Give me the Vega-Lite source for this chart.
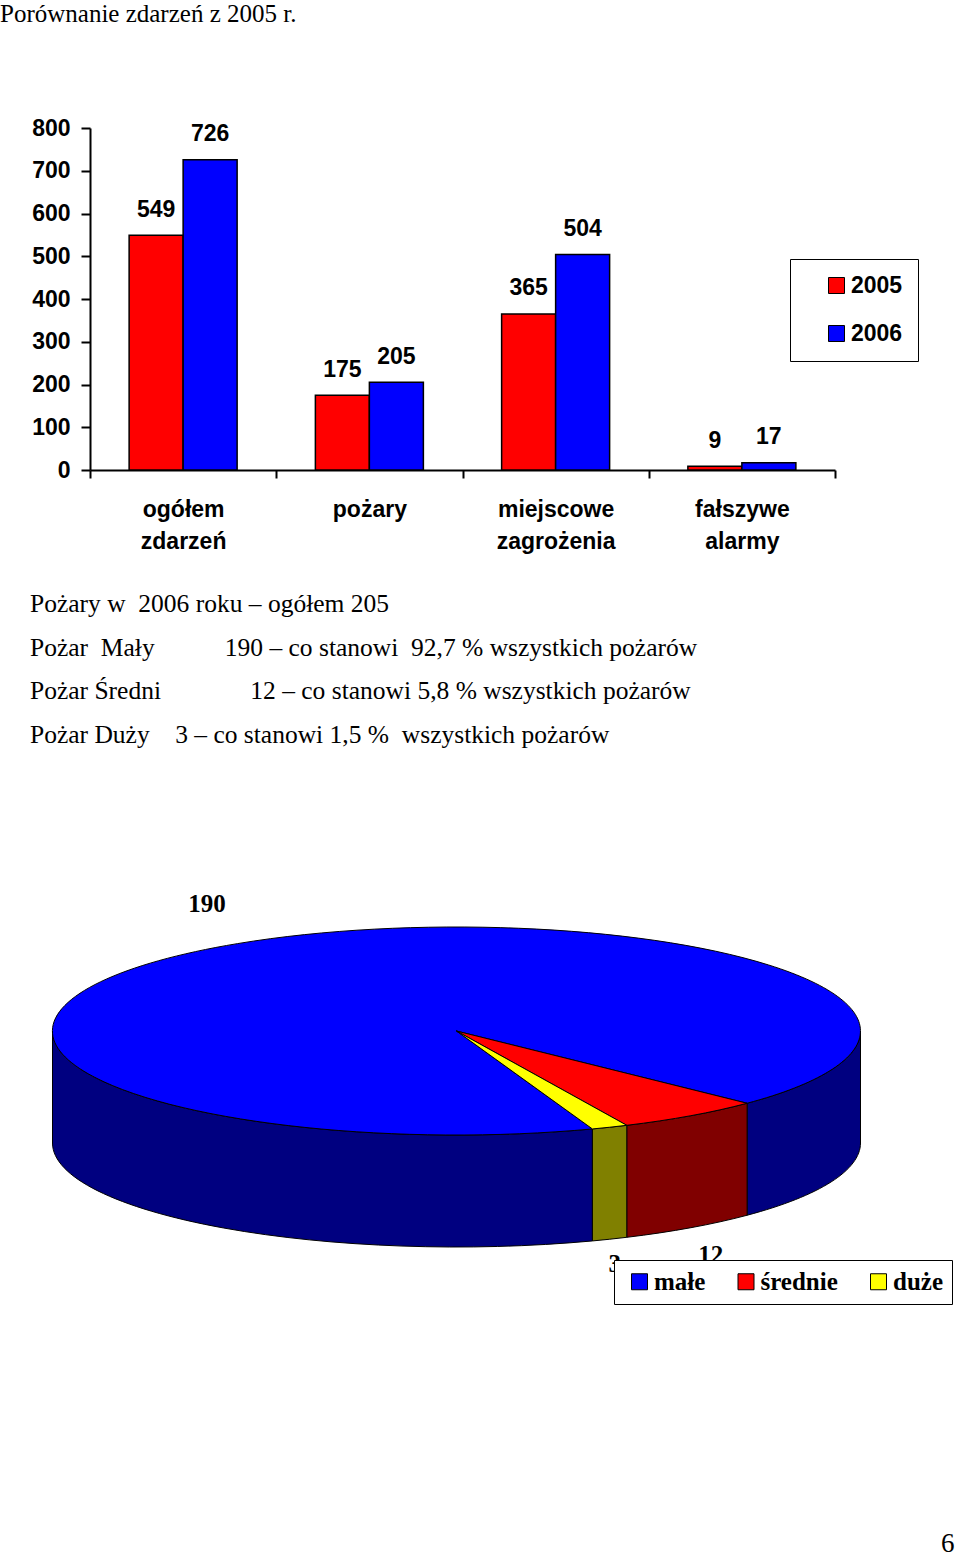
{
  "$schema": "https://vega.github.io/schema/vega-lite/v6.json",
  "background": "white",
  "padding": {"top": 2, "left": 0, "right": 0, "bottom": 0},
  "config": {"view": {"stroke": null}, "font": "Liberation Sans"},
  "title": {"text": "6", "orient": "bottom", "anchor": "end", "frame": "bounds", "font": "Liberation Serif", "fontSize": 27, "fontWeight": "normal", "color": "black", "offset": 226, "dx": 2},
  "spacing": 39,
  "resolve": {"scale": {"color": "independent"}, "legend": {"color": "independent"}},
  "vconcat": [
    {
      "width": 745,
      "height": 342,
      "title": {"text": "Porównanie zdarzeń z 2005 r.", "anchor": "start", "frame": "group", "font": "Liberation Serif", "fontSize": 25, "fontWeight": "normal", "color": "black", "dx": -90, "offset": 90},
      "data": {"values": [
        {"zdarzenie": "ogółem zdarzeń", "rok": "2005", "liczba": 549},
        {"zdarzenie": "ogółem zdarzeń", "rok": "2006", "liczba": 726},
        {"zdarzenie": "pożary", "rok": "2005", "liczba": 175},
        {"zdarzenie": "pożary", "rok": "2006", "liczba": 205},
        {"zdarzenie": "miejscowe zagrożenia", "rok": "2005", "liczba": 365},
        {"zdarzenie": "miejscowe zagrożenia", "rok": "2006", "liczba": 504},
        {"zdarzenie": "fałszywe alarmy", "rok": "2005", "liczba": 9},
        {"zdarzenie": "fałszywe alarmy", "rok": "2006", "liczba": 17}
      ]},
      "encoding": {
        "x": {"field": "zdarzenie", "type": "nominal", "sort": null, "title": null,
          "scale": {"paddingInner": 0, "paddingOuter": 0},
          "axis": {"tickBand": "extent", "labelAngle": 0, "labelExpr": "split(datum.label, ' ')", "labelFont": "Liberation Sans", "labelFontWeight": "bold", "labelFontSize": 23, "labelColor": "black", "labelLineHeight": 32, "labelPadding": 20, "tickSize": 8, "tickColor": "black", "tickWidth": 2, "domainColor": "black", "domainWidth": 2, "labelLimit": 0}},
        "xOffset": {"field": "rok", "type": "nominal", "scale": {"paddingInner": 0, "paddingOuter": 0.7245}},
        "y": {"field": "liczba", "type": "quantitative", "title": null,
          "scale": {"domain": [0, 800], "nice": false},
          "axis": {"values": [0, 100, 200, 300, 400, 500, 600, 700, 800], "grid": false, "tickSize": 9, "tickWidth": 2, "tickColor": "black", "domainColor": "black", "domainWidth": 2, "labelFont": "Liberation Sans", "labelFontWeight": "bold", "labelFontSize": 23, "labelColor": "black", "labelPadding": 11, "labelOverlap": false}}
      },
      "layer": [
        {
          "mark": {"type": "bar", "stroke": "black", "strokeWidth": 1.5},
          "encoding": {
            "color": {"field": "rok", "type": "nominal", "scale": {"domain": ["2005", "2006"], "range": ["#FF0000", "#0000FF"]},
              "legend": {"title": null, "orient": "none", "legendX": 700, "legendY": 131, "direction": "vertical", "symbolType": "square", "symbolSize": 256, "symbolStrokeColor": "black", "symbolStrokeWidth": 1, "labelFont": "Liberation Sans", "labelFontWeight": "bold", "labelFontSize": 23, "labelColor": "black", "labelOffset": 3, "padding": 15, "symbolOffset": 20, "rowPadding": 24, "strokeColor": "black", "fillColor": "white"}}
          }
        },
        {
          "mark": {"type": "text", "font": "Liberation Sans", "fontWeight": "bold", "fontSize": 23, "baseline": "alphabetic", "align": "center", "dy": -18.5, "color": "black"},
          "encoding": {"text": {"field": "liczba", "type": "quantitative"}}
        }
      ]
    },
    {
      "width": 733,
      "height": 380,
      "title": {
        "text": [
          "Pożary w\u00a0\u00a02006 roku – ogółem 205",
          "Pożar\u00a0\u00a0Mały\u00a0\u00a0\u00a0\u00a0\u00a0\u00a0\u00a0\u00a0\u00a0\u00a0\u00a0190 – co stanowi\u00a0\u00a092,7 % wszystkich pożarów",
          "Pożar Średni\u00a0\u00a0\u00a0\u00a0\u00a0\u00a0\u00a0\u00a0\u00a0\u00a0\u00a0\u00a0\u00a0\u00a012 – co stanowi 5,8 % wszystkich pożarów",
          "Pożar Duży\u00a0\u00a0\u00a0\u00a03 – co stanowi 1,5 %\u00a0\u00a0wszystkich pożarów"
        ],
        "anchor": "start", "frame": "group", "font": "Liberation Serif", "fontSize": 25.5, "fontWeight": "normal", "color": "black", "lineHeight": 43.5, "dx": -60, "offset": 93
      },
      "data": {"values": [
        {"kategoria": "małe", "liczba": 190},
        {"kategoria": "średnie", "liczba": 12},
        {"kategoria": "duże", "liczba": 3}
      ]},
      "layer": [
        {
          "mark": {"type": "point", "filled": true, "opacity": 1, "size": 40000, "stroke": "black", "strokeWidth": 1},
          "encoding": {
            "shape": {"field": "kategoria", "type": "nominal", "legend": null, "scale": {"domain": ["małe", "średnie", "duże"], "range": [
              "M 1.3592 0.9794 A 4.04 1.04 0 0 1 -4.04 0 L -4.04 1.12 A 4.04 1.04 0 0 0 1.3592 2.0994 Z M 4.04 0 A 4.04 1.04 0 0 1 2.9061 0.7224 L 2.9061 1.8424 A 4.04 1.04 0 0 0 4.04 1.12 Z",
              "M 2.9061 0.7224 A 4.04 1.04 0 0 1 1.7027 0.9431 L 1.7027 2.0631 A 4.04 1.04 0 0 0 2.9061 1.8424 Z",
              "M 1.7027 0.9431 A 4.04 1.04 0 0 1 1.3592 0.9794 L 1.3592 2.0994 A 4.04 1.04 0 0 0 1.7027 2.0631 Z"
            ]}},
            "fill": {"field": "kategoria", "type": "nominal", "legend": null, "scale": {"domain": ["małe", "średnie", "duże"], "range": ["#000080", "#800000", "#808000"]}}
          }
        },
        {
          "mark": {"type": "point", "filled": true, "opacity": 1, "size": 40000, "stroke": "black", "strokeWidth": 1},
          "encoding": {
            "shape": {"field": "kategoria", "type": "nominal", "legend": null, "scale": {"domain": ["małe", "średnie", "duże"], "range": [
              "M 0 0 L 1.3592 0.9794 A 4.04 1.04 0 1 1 2.9061 0.7224 Z",
              "M 0 0 L 2.9061 0.7224 A 4.04 1.04 0 0 1 1.7027 0.9431 Z",
              "M 0 0 L 1.7027 0.9431 A 4.04 1.04 0 0 1 1.3592 0.9794 Z"
            ]}},
            "color": {"field": "kategoria", "type": "nominal", "scale": {"domain": ["małe", "średnie", "duże"], "range": ["#0000FF", "#FF0000", "#FFFF00"]},
              "legend": {"title": null, "orient": "none", "legendX": 524, "legendY": 419, "direction": "horizontal", "symbolType": "square", "symbolSize": 256, "symbolStrokeColor": "black", "symbolStrokeWidth": 1, "labelFont": "Liberation Serif", "labelFontWeight": "bold", "labelFontSize": 25, "labelColor": "black", "labelOffset": 2, "columnPadding": 23.5, "padding": 9, "symbolOffset": 4, "strokeColor": "black", "fillColor": "white"}}
          }
        },
        {
          "mark": {"type": "text", "font": "Liberation Serif", "fontWeight": "bold", "fontSize": 25, "align": "center", "baseline": "middle", "color": "black"},
          "encoding": {
            "theta": {"field": "liczba", "type": "quantitative", "stack": true, "scale": {"range": [1.9906, 8.8794]}},
            "radius": {"field": "liczba", "type": "quantitative", "scale": {"type": "linear", "zero": false, "domain": [3, 12, 190], "range": [282, 339, 280]}},
            "order": {"field": "liczba", "sort": "descending"},
            "text": {"field": "liczba", "type": "quantitative"}
          }
        }
      ],
      "resolve": {"scale": {"shape": "independent"}}
    }
  ]
}
